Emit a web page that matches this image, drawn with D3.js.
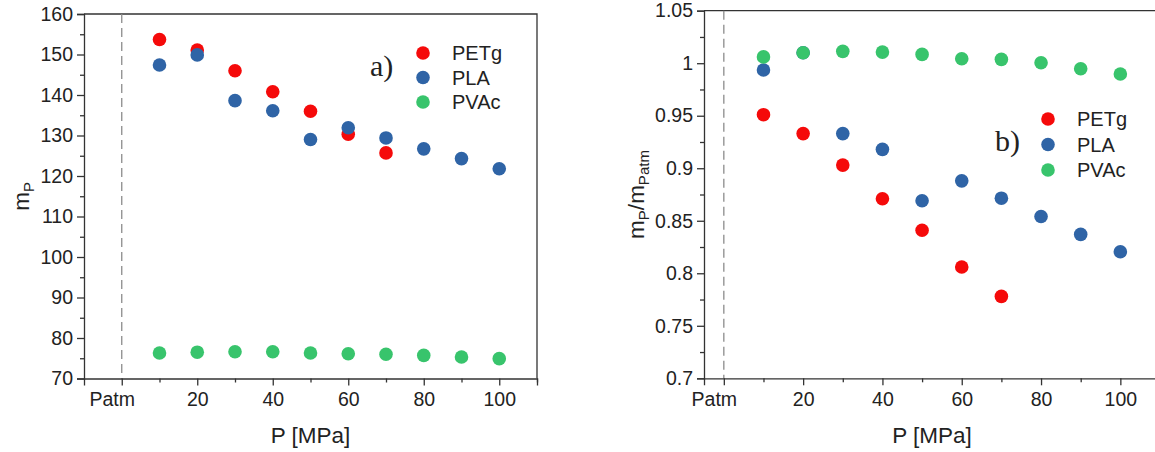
<!DOCTYPE html>
<html><head><meta charset="utf-8">
<script src="https://cdn.jsdelivr.net/npm/d3@7/dist/d3.min.js"></script>
<style>
body{margin:0;background:#fff;}
svg{display:block;}
text{font-family:"Liberation Sans",Arial,sans-serif;fill:#222;}
</style></head>
<body>
<svg id="c" width="1155" height="452"></svg>
<script>
// ---- data ----
const pressures = [10,20,30,40,50,60,70,80,90,100];
const seriesNames = ["PETg","PLA","PVAc"];
const seriesColors = ["#f50a0a","#2f64a6","#38c46c"];
const xTickLabels = ["Patm","20","40","60","80","100"];
// panel a) m_P
const mPETg = [153.7,151.1,146.0,140.8,136.0,130.3,125.7];
const mPLA  = [147.4,149.9,138.6,136.1,129.0,131.9,129.4,126.7,124.3,121.8];
const mPVAc = [76.3,76.5,76.6,76.6,76.3,76.1,76.0,75.7,75.3,74.9];
// panel b) m_P / m_Patm
const rPETg = [0.951,0.933,0.903,0.871,0.841,0.806,0.778];
const rPLA  = [0.9935,1.010,0.933,0.918,0.869,0.888,0.8715,0.854,0.837,0.8205];
const rPVAc = [1.006,1.010,1.0113,1.0106,1.0084,1.0043,1.0037,1.0005,0.9947,0.9897];
const yTicksA = [70,80,90,100,110,120,130,140,150,160];
const yTicksB = [0.7,0.75,0.8,0.85,0.9,0.95,1,1.05];

const svg = d3.select("#c");
const axisColor = "#333";
const R = 6.8;

function panel(cfg){
  const x = d3.scaleLinear().domain(cfg.xDomain).range(cfg.xRange);
  const y = d3.scaleLinear().domain(cfg.yDomain).range(cfg.yRange);
  const g = svg.append("g");
  const [x0,x1] = cfg.xRange, [yb,yt] = cfg.yRange;

  // frame top & right
  g.append("path").attr("d",`M${x0},${yt}H${x1}V${yb}`).attr("fill","none")
    .attr("stroke",axisColor).attr("stroke-width",1.3);

  // dashed Patm line
  g.append("line").attr("x1",x(0)).attr("x2",x(0)).attr("y1",yt).attr("y2",yb)
    .attr("stroke","#8c8c8c").attr("stroke-width",1.3).attr("stroke-dasharray","9,5");

  // x minor ticks
  g.append("g").attr("transform",`translate(0,${yb})`)
    .call(d3.axisBottom(x).tickValues([10,30,50,70,90,110]).tickSize(4).tickFormat(""))
    .call(s=>{s.select(".domain").remove();s.selectAll("line").attr("stroke",axisColor).attr("stroke-width",1.3);});
  // x major
  const xa = g.append("g").attr("transform",`translate(0,${yb})`)
    .call(d3.axisBottom(x).tickValues([0,20,40,60,80,100]).tickSize(7).tickPadding(7)
      .tickFormat((d,i)=>xTickLabels[i]));
  xa.select(".domain").attr("stroke",axisColor).attr("stroke-width",1.3);
  xa.selectAll("line").attr("stroke",axisColor).attr("stroke-width",1.3);
  xa.selectAll("text").attr("font-size",19.5).attr("fill","#222")
    .attr("dx",(d)=>d===0?-10:0);

  // y minor
  const yMinor = [];
  for(let i=0;i<cfg.yTicks.length-1;i++) yMinor.push((cfg.yTicks[i]+cfg.yTicks[i+1])/2);
  g.append("g").attr("transform",`translate(${x0},0)`)
    .call(d3.axisLeft(y).tickValues(yMinor).tickSize(4).tickFormat(""))
    .call(s=>{s.select(".domain").remove();s.selectAll("line").attr("stroke",axisColor).attr("stroke-width",1.3);});
  const ya = g.append("g").attr("transform",`translate(${x0},0)`)
    .call(d3.axisLeft(y).tickValues(cfg.yTicks).tickSize(7).tickPadding(4)
      .tickFormat(cfg.yFormat));
  ya.select(".domain").attr("stroke",axisColor).attr("stroke-width",1.3);
  ya.selectAll("line").attr("stroke",axisColor).attr("stroke-width",1.3);
  ya.selectAll("text").attr("font-size",19.5).attr("fill","#222");

  // points
  cfg.series.forEach((vals,si)=>{
    g.append("g").selectAll("circle").data(vals).join("circle")
      .attr("cx",(d,i)=>x(pressures[i])).attr("cy",d=>y(d)).attr("r",R)
      .attr("fill",seriesColors[si]);
  });

  // axis titles
  g.append("text").attr("x",(x0+Math.min(x1,1160))/2).attr("y",443).attr("text-anchor","middle")
    .attr("font-size",22.5).text("P [MPa]");
  const yt2 = g.append("text").attr("transform",`translate(${cfg.yTitleX},${(yt+yb)/2}) rotate(-90)`)
    .attr("text-anchor","middle").attr("font-size",22.5);
  cfg.yTitle(yt2);

  // legend
  seriesNames.forEach((n,i)=>{
    const ly = cfg.legY + i*cfg.legDy;
    g.append("circle").attr("cx",cfg.legX).attr("cy",ly).attr("r",R).attr("fill",seriesColors[i]);
    g.append("text").attr("x",cfg.legX+29).attr("y",ly).attr("dy","0.36em")
      .attr("font-size",20).text(n);
  });
  g.append("text").attr("x",cfg.labX).attr("y",cfg.labY)
    .style("font-family","'Liberation Serif','Times New Roman',serif").attr("font-size",30)
    .attr("fill","#111").text(cfg.label);
}

panel({
  xDomain:[-10,110], xRange:[84,537],
  yDomain:[70,160], yRange:[378.5,14],
  yTicks:yTicksA, yFormat:d=>d,
  series:[mPETg,mPLA,mPVAc],
  yTitleX:29,
  yTitle:t=>{t.append("tspan").text("m");t.append("tspan").attr("font-size",15).attr("dy",5).text("P");},
  legX:423, legY:53, legDy:24.5,
  labX:370, labY:76, label:"a)"
});
panel({
  xDomain:[-5,110], xRange:[704,1160],
  yDomain:[0.7,1.05], yRange:[378.3,10.7],
  yTicks:yTicksB, yFormat:d=>String(+d.toFixed(2)),
  series:[rPETg,rPLA,rPVAc],
  yTitleX:644,
  yTitle:t=>{t.append("tspan").text("m");t.append("tspan").attr("font-size",15).attr("dy",5).text("P");
    t.append("tspan").attr("dy",-5).text("/m");t.append("tspan").attr("font-size",15).attr("dy",5).text("Patm");},
  legX:1048, legY:119, legDy:25.5,
  labX:995, labY:151, label:"b)"
});
</script>
</body></html>
